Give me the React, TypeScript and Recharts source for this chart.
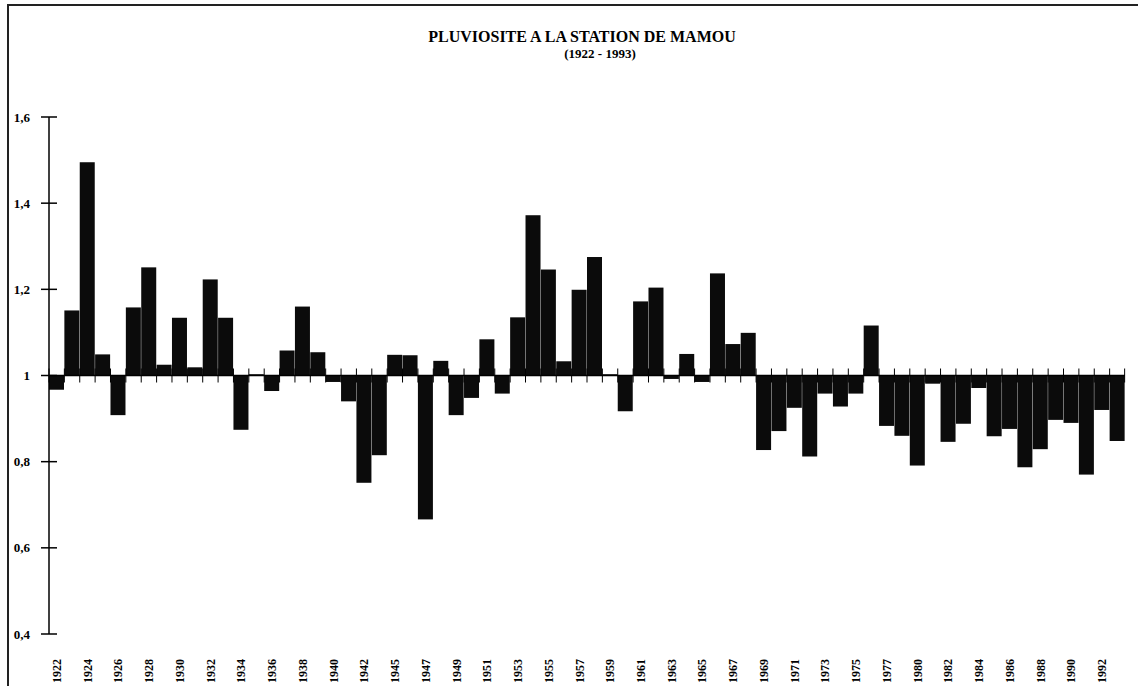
import { Bar, BarChart, ReferenceLine, XAxis, YAxis } from "recharts";

// years shown on the axis (two years are absent from the series)
const years = [
  "1922", "1923", "1924", "1925", "1926", "1927", "1928", "1929", "1930", "1931",
  "1932", "1933", "1934", "1935", "1936", "1937", "1938", "1939", "1940", "1941",
  "1942", "1943", "1945", "1946", "1947", "1948", "1949", "1950", "1951", "1952",
  "1953", "1954", "1955", "1956", "1957", "1958", "1959", "1960", "1961", "1962",
  "1963", "1964", "1965", "1966", "1967", "1968", "1969", "1970", "1971", "1972",
  "1973", "1974", "1975", "1976", "1977", "1978", "1980", "1981", "1982", "1983",
  "1984", "1985", "1986", "1987", "1988", "1989", "1990", "1991", "1992", "1993",
];

// pluviosité relative (1 = moyenne)
const pluie = [
  0.967, 1.151, 1.495, 1.049, 0.908, 1.158, 1.251, 1.025, 1.134, 1.019,
  1.223, 1.134, 0.874, 1.003, 0.964, 1.058, 1.16, 1.054, 0.985, 0.94,
  0.751, 0.815, 1.048, 1.047, 0.666, 1.034, 0.908, 0.948, 1.084, 0.958,
  1.135, 1.372, 1.246, 1.033, 1.199, 1.275, 1.003, 0.917, 1.172, 1.204,
  0.992, 1.05, 0.985, 1.237, 1.073, 1.099, 0.827, 0.871, 0.925, 0.812,
  0.958, 0.928, 0.958, 1.116, 0.883, 0.86, 0.791, 0.981, 0.846, 0.888,
  0.971, 0.859, 0.876, 0.787, 0.829, 0.897, 0.89, 0.77, 0.92, 0.848,
];

const yTicks = [0.4, 0.6, 0.8, 1, 1.2, 1.4, 1.6];

const data = years.map((year, i) => ({
  year,
  v: pluie[i],
  range: [Math.min(pluie[i], 1), Math.max(pluie[i], 1)],
}));

const serif = "'Liberation Serif', 'Times New Roman', serif";

function BarShape(props: any) {
  const { x, y, width, height, payload, index } = props;
  const base = payload.v >= 1 ? y + height : y;
  return (
    <g>
      <rect x={x} y={y} width={width} height={height} fill="#0b0b0b" />
      <line x1={x} x2={x} y1={base - 7} y2={base + 7} stroke="#000" strokeWidth={1} />
      {index === data.length - 1 && (
        <line x1={x + width} x2={x + width} y1={base - 7} y2={base + 7} stroke="#000" strokeWidth={1} />
      )}
    </g>
  );
}

function YTick({ x, y, payload }: any) {
  const label = String(payload.value).replace(".", ",");
  return (
    <g>
      <line x1={x - 8} x2={x + 8} y1={y} y2={y} stroke="#000" strokeWidth={1.5} />
      <text x={x - 19} y={y} dy="0.35em" textAnchor="end" fontFamily={serif} fontWeight="bold" fontSize={13} fill="#000">
        {label}
      </text>
    </g>
  );
}

function XTick({ x, y, payload }: any) {
  return (
    <g transform={`translate(${x},${y + 49})`}>
      <text transform="rotate(-90)" dy="0.35em" textAnchor="start" fontFamily={serif} fontWeight="bold" fontSize={12} fill="#000">
        {payload.value}
      </text>
    </g>
  );
}

export default function App() {
  return (
    <div style={{ position: "absolute", left: 0, top: 0, width: 1138, height: 686, background: "#fff", overflow: "hidden" }}>
      <div style={{ position: "absolute", left: 7, top: 4, width: 2, height: 682, background: "#222" }} />
      <div style={{ position: "absolute", left: 7, top: 4, width: 1131, height: 2, background: "#222" }} />
      <div
        style={{
          position: "absolute", left: 382, top: 28, width: 400, textAlign: "center",
          fontFamily: serif, fontWeight: "bold", fontSize: 16, lineHeight: "18px", color: "#000",
        }}
      >
        PLUVIOSITE A LA STATION DE MAMOU
      </div>
      <div
        style={{
          position: "absolute", left: 500, top: 46, width: 200, textAlign: "center",
          fontFamily: serif, fontWeight: "bold", fontSize: 13, lineHeight: "15px", color: "#000",
        }}
      >
        (1922 - 1993)
      </div>
      <BarChart
        width={1138}
        height={686}
        data={data}
        margin={{ top: 117, right: 13, left: 0, bottom: 0 }}
        barCategoryGap={0}
        style={{ position: "absolute", left: 0, top: 0 }}
      >
        <XAxis
          dataKey="year"
          interval={1}
          height={52}
          axisLine={false}
          tickLine={false}
          tickSize={0}
          tickMargin={0}
          tick={<XTick />}
        />
        <YAxis
          domain={[0.4, 1.6]}
          ticks={yTicks}
          allowDataOverflow
          width={49}
          axisLine={{ stroke: "#000", strokeWidth: 1.5 }}
          tickLine={false}
          tickSize={0}
          tickMargin={0}
          tick={<YTick />}
        />
        <ReferenceLine y={1} stroke="#000" strokeWidth={1.5} />
        <Bar dataKey="range" shape={<BarShape />} isAnimationActive={false} />
      </BarChart>
    </div>
  );
}
